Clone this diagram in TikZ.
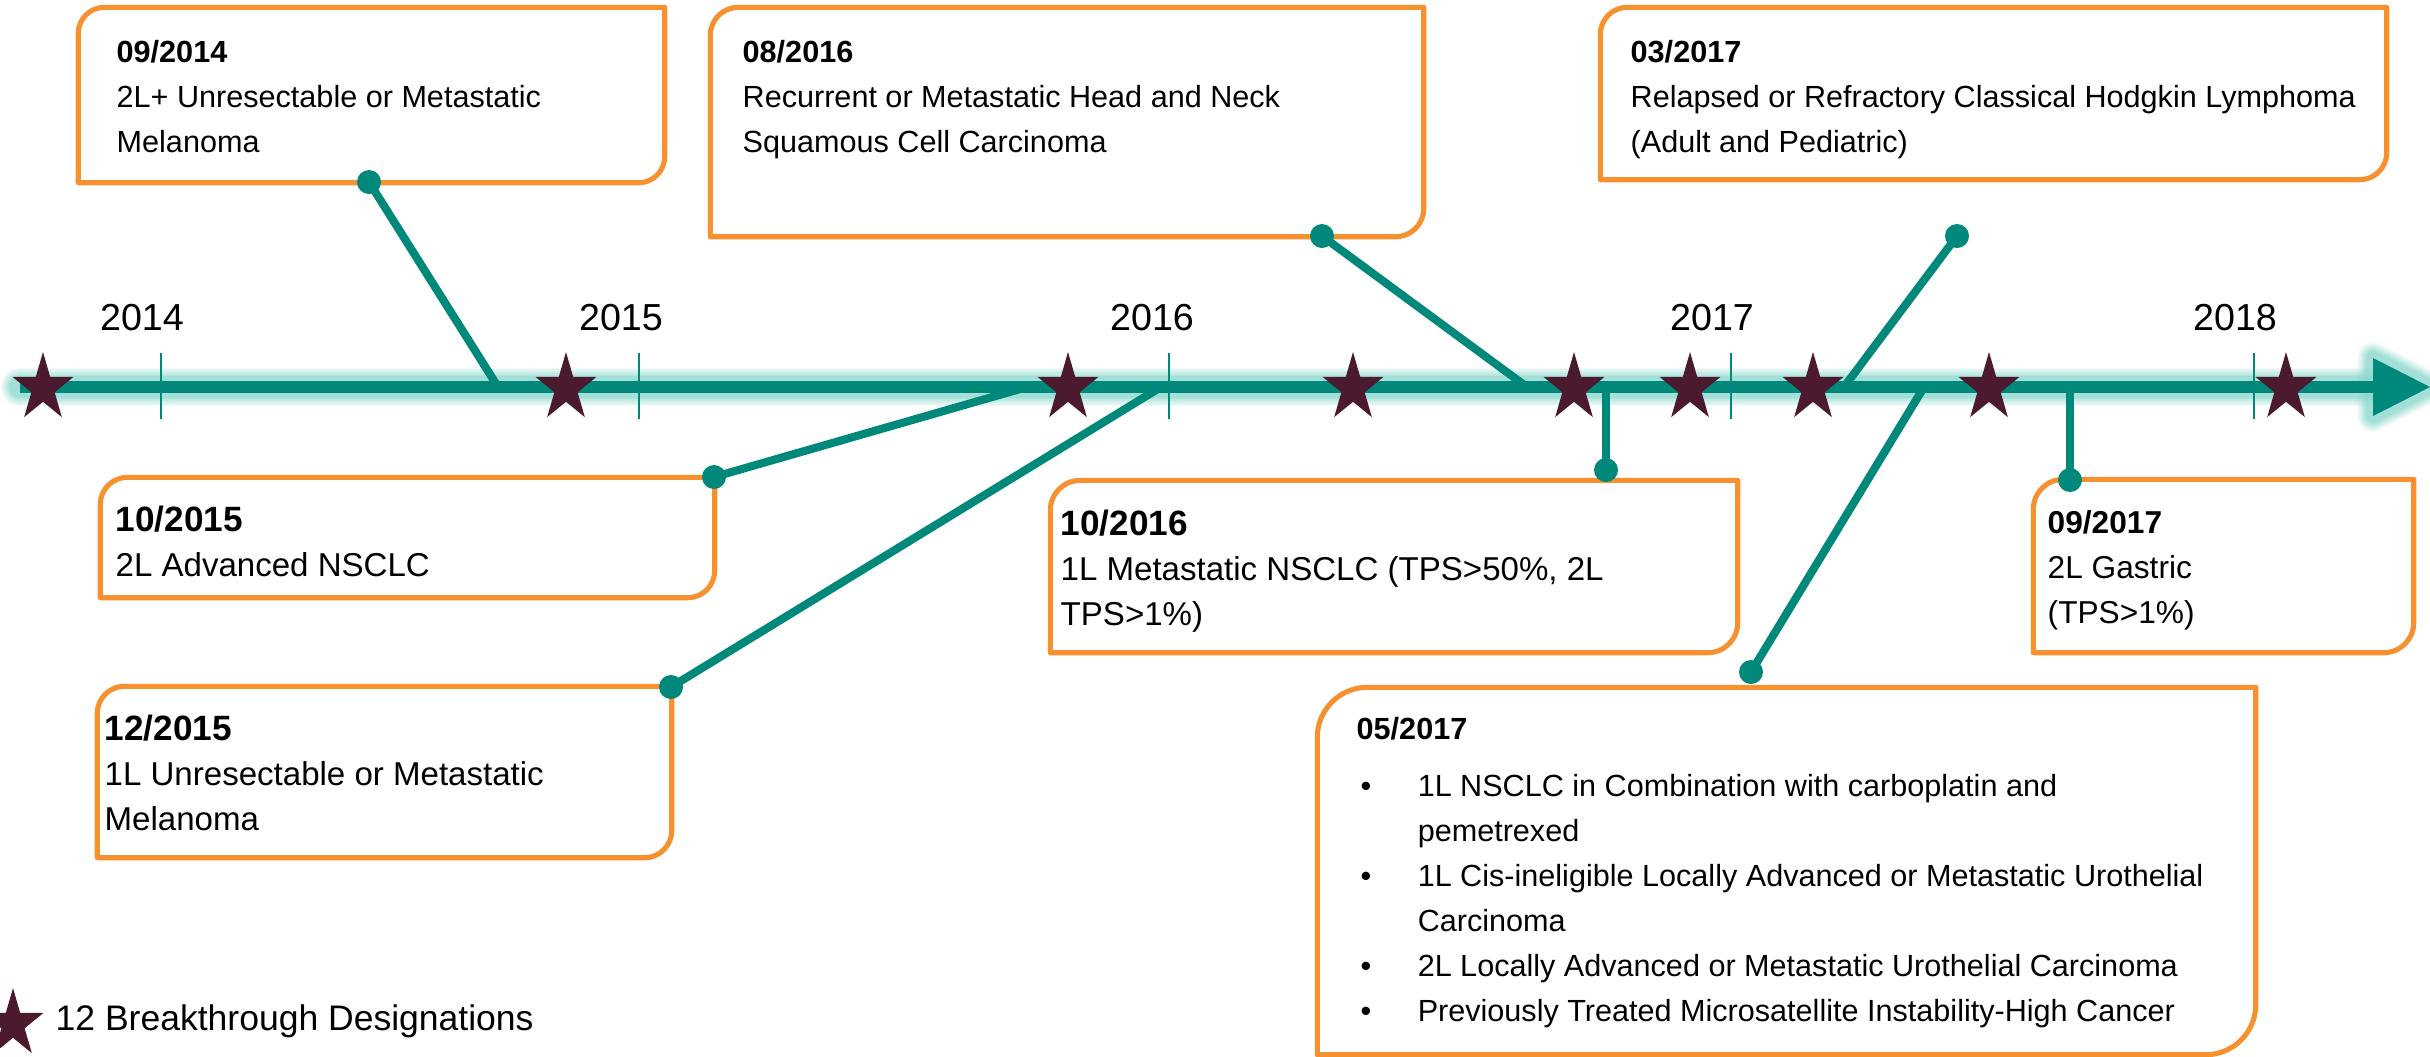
\documentclass[tikz,border=0pt]{standalone}
\usepackage{fontspec}
\setmainfont{Liberation Sans}
\usetikzlibrary{calc,fit}
\definecolor{teal1}{RGB}{0,137,123}
\definecolor{glowc}{RGB}{140,216,205}
\definecolor{starc}{RGB}{75,26,46}
\definecolor{orng}{RGB}{247,145,47}
\tikzset{
 frameline/.style={draw=orng, line width=1.45pt, line join=round},
 conn/.style={draw=teal1, line width=2.3pt},
 dotst/.style={fill=teal1},
 txt/.style={anchor=north west, inner sep=0pt, align=left, font=\fontsize{8.7pt}{12.8pt}\selectfont},
 txtb/.style={anchor=north west, inner sep=0pt, align=left, font=\fontsize{9.4pt}{12.8pt}\selectfont},
 yearlbl/.style={anchor=base, inner sep=0pt, font=\fontsize{10.7pt}{12pt}\selectfont},
 tickst/.style={draw=teal1, line width=0.55pt},
 boxnode/.style={inner sep=0pt, draw=none},
 pics/bstar/.style={code={\fill[starc] (0,-36) -- (7.19,-11.12) -- (30.47,-11.12) -- (11.64,4.25) -- (18.83,29.12) -- (0,13.75) -- (-18.83,29.12) -- (-11.64,4.25) -- (-30.47,-11.12) -- (-7.19,-11.12) -- cycle;}},
}
\newcommand\diagframe[2]{%
 \draw[frameline] let \p1=(#1.north west), \p2=(#1.south east) in
 (\x1,\y2) -- (\x1,\y1-#2) .. controls (\x1,\y1-0.448*#2) and (\x1+0.448*#2,\y1) .. (\x1+#2,\y1)
 -- (\x2,\y1) -- (\x2,\y2+#2) .. controls (\x2,\y2+0.448*#2) and (\x2-0.448*#2,\y2) .. (\x2-#2,\y2) -- cycle;}
\newcommand\bul{\makebox[0.61cm][l]{\hspace{0.04cm}•}}
\newcommand\ind{\hspace*{0.61cm}}
\newcommand\bigdate[1]{{\fontsize{10pt}{12.8pt}\selectfont\textbf{#1}}}
\begin{document}
\begin{tikzpicture}[x=0.01cm,y=-0.01cm]
\useasboundingbox (0,0) rectangle (2430,1056);
% axis coordinates
\coordinate (ax0) at (20,387);
\coordinate (ax1) at (2373,387);
\coordinate (tip) at (2430,387);
% soft glow
\foreach \w/\o in {11pt/0.12,10pt/0.15,9pt/0.2,8pt/0.25,7pt/0.3,6pt/0.4}{
  \draw[glowc, line width=\w, opacity=\o, line cap=round] (ax0) -- (ax1);
  \draw[glowc, line width=\w-2pt, opacity=\o, line join=round, fill=glowc, fill opacity=0] (2373,358) -- (tip) -- (2373,416) -- cycle;
}
% axis
\draw[teal1, line width=3.4pt] (ax0) -- (ax1);
\fill[teal1] (2373,358) -- (tip) -- (2373,416) -- cycle;
% ticks
\foreach \t in {161,639,1169,1731,2254}{\draw[tickst] (\t,353) -- (\t,419);}
% year labels
\node[yearlbl] (y14) at (142,330) {2014};
\node[yearlbl] (y15) at (621,330) {2015};
\node[yearlbl] (y16) at (1152,330) {2016};
\node[yearlbl] (y17) at (1712,330) {2017};
\node[yearlbl] (y18) at (2235,330) {2018};
% dots and axis points
\coordinate (d1) at (369,182);  \coordinate (a1) at (498,387);
\coordinate (d2) at (1322,236); \coordinate (a2) at (1527,387);
\coordinate (d3) at (1957,236); \coordinate (a3) at (1844,387);
\coordinate (d4) at (714,477);  \coordinate (a4) at (1027,387);
\coordinate (d5) at (671,687);  \coordinate (a5) at (1161,387);
\coordinate (d6) at (1606,470); \coordinate (a6) at (1606,387);
\coordinate (d7) at (2070,480); \coordinate (a7) at (2070,387);
\coordinate (d8) at (1751,672); \coordinate (a8) at (1924,387);
\foreach \i in {1,...,8}{\draw[conn] (d\i) -- (a\i);}
% boxes
\node[boxnode, fit={(79,8) (664,182)}] (b1) {};
\node[boxnode, fit={(711,8) (1423,236)}] (b2) {};
\node[boxnode, fit={(1601,8) (2386,179)}] (b3) {};
\node[boxnode, fit={(101,478) (714,597)}] (b4) {};
\node[boxnode, fit={(98,687) (671,857)}] (b5) {};
\node[boxnode, fit={(1051,481) (1737,652)}] (b6) {};
\node[boxnode, fit={(2034,480) (2413,652)}] (b7) {};
\node[boxnode, fit={(1318,688) (2255,1054)}] (b8) {};
\diagframe{b1}{0.26cm}
\diagframe{b2}{0.28cm}
\diagframe{b3}{0.27cm}
\diagframe{b4}{0.27cm}
\diagframe{b5}{0.27cm}
\diagframe{b6}{0.30cm}
\diagframe{b7}{0.30cm}
\diagframe{b8}{0.50cm}
\foreach \i in {1,...,8}{\fill[dotst] (d\i) circle[radius=0.12cm];}
% texts
\node[txt] (t1) at (116,40) {\textbf{09/2014}\\2L+ Unresectable or Metastatic\\Melanoma};
\node[txt] (t2) at (742,40) {\textbf{08/2016}\\Recurrent or Metastatic Head and Neck\\Squamous Cell Carcinoma};
\node[txt] (t3) at (1630,40) {\textbf{03/2017}\\Relapsed or Refractory Classical Hodgkin Lymphoma\\(Adult and Pediatric)};
\node[txtb] (t4) at (115,505) {\bigdate{10/2015}\\2L Advanced NSCLC};
\node[txtb] (t5) at (104,714) {\bigdate{12/2015}\\1L Unresectable or Metastatic\\Melanoma};
\node[txtb] (t6) at (1060,509) {\bigdate{10/2016}\\1L Metastatic NSCLC (TPS>50\%, 2L\\TPS>1\%)};
\node[txtb, font=\fontsize{9pt}{12.8pt}\selectfont] (t7) at (2047,510) {\textbf{09/2017}\\2L Gastric\\(TPS>1\%)};
\node[txt] (t8) at (1356,717) {\textbf{05/2017}\\[3.4pt]
\bul 1L NSCLC in Combination with carboplatin and\\
\ind pemetrexed\\
\bul 1L Cis-ineligible Locally Advanced or Metastatic Urothelial\\
\ind Carcinoma\\
\bul 2L Locally Advanced or Metastatic Urothelial Carcinoma\\
\bul Previously Treated Microsatellite Instability-High Cancer};
% stars
\foreach \s [count=\k] in {43,566,1068,1353,1574,1690,1813,1989,2286}{\pic (s\k) at (\s,388) {bstar};}
% legend
\pic (ls) at (13,1024) {bstar};
\node[anchor=base west, inner sep=0pt, font=\fontsize{10.1pt}{12pt}\selectfont] (leg) at (55,1030) {12 Breakthrough Designations};
\end{tikzpicture}
\end{document}
